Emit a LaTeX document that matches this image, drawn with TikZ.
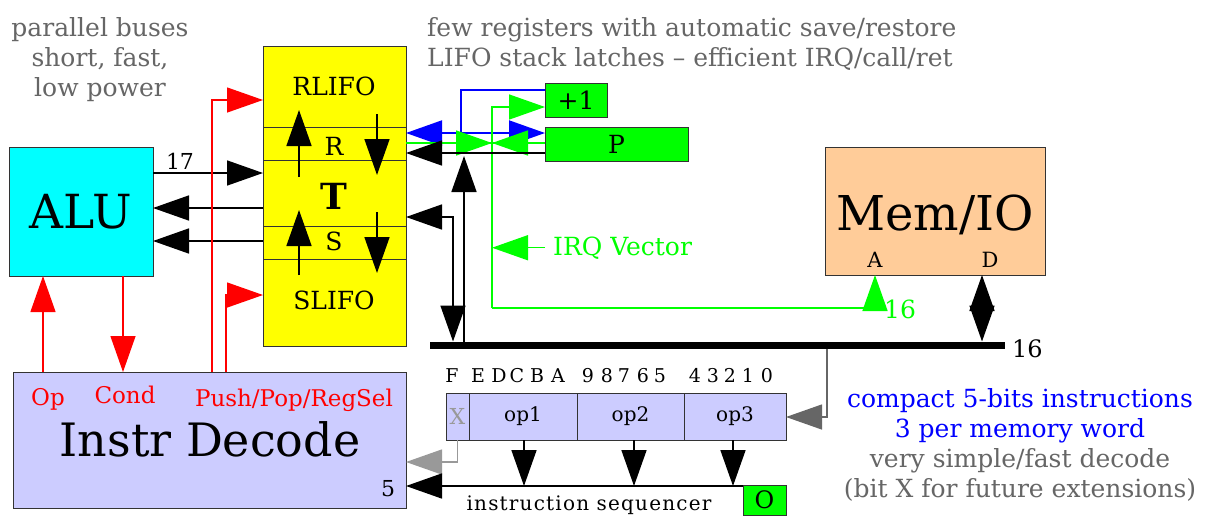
\documentclass[tikz,border=0pt]{standalone}
\usepackage{fontspec}
\setmainfont{DejaVu Serif}
\usetikzlibrary{arrows.meta}
\definecolor{grn}{HTML}{00FF00}
\definecolor{yel}{HTML}{FFFF00}
\definecolor{cya}{HTML}{00FFFF}
\definecolor{lav}{HTML}{CCCCFF}
\definecolor{peach}{HTML}{FFCC99}
\definecolor{txtgray}{HTML}{666666}
\definecolor{edge}{HTML}{333333}
\definecolor{redc}{HTML}{FF0000}
\definecolor{bluec}{HTML}{0000FF}
\definecolor{lgray}{HTML}{999999}
\definecolor{dgray}{HTML}{666666}
\tikzset{bigT/.tip={Triangle[length=36pt,width=25pt]}}
\begin{document}
\begin{tikzpicture}[x=1pt,y=-1pt,
  box/.style={draw=edge, line width=1pt, inner sep=0pt, outer sep=0pt, anchor=north west},
  ar/.style={-bigT, line width=1.6pt},
  dar/.style={bigT-bigT, line width=1.6pt},
  fxl/.style={font=\fontsize{47}{56}\selectfont},
  fm/.style={font=\fontsize{25}{30}\selectfont},
  fs/.style={font=\fontsize{22}{26}\selectfont},
  fxs/.style={font=\fontsize{20}{24}\selectfont},
  lbl/.style={inner sep=0pt, anchor=base},
]
\fill[white] (0,0) rectangle (1205,515);
\useasboundingbox (0,0) rectangle (1205,515);

% annotations (anchor base = last line)
\node[fm, txtgray, align=center, lbl] (ann1) at (100,96) {parallel buses\\short, fast,\\low power};
\node[fm, txtgray, align=left, inner sep=0pt, anchor=base west] (ann2) at (427,66) {few registers with automatic save/restore\\LIFO stack latches -- efficient IRQ/call/ret};
\node[fm, align=center, lbl] (ann3) at (1020,497) {\textcolor{bluec}{compact 5-bits instructions}\\\textcolor{bluec}{3 per memory word}\\\textcolor{txtgray}{very simple/fast decode}\\\textcolor{txtgray}{(bit X for future extensions)}};

% main boxes
\node[box, fill=cya, minimum width=144pt, minimum height=129pt, fxl] (alu) at (9,147) {ALU};
\node[box, fill=yel, minimum width=143pt, minimum height=300pt] (T) at (263,46) {};
\node[box, minimum width=143pt, minimum height=33pt] (Rsec) at (263,127) {};
\node[box, minimum width=143pt, minimum height=33pt] (Ssec) at (263,226) {};
\node[fm, lbl] (rlifo) at (334,95) {RLIFO};
\node[fm, lbl] (rlab) at (334,155) {R};
\node[font=\fontsize{36}{40}\selectfont\bfseries, lbl] (tlab) at (334,209) {T};
\node[fm, lbl] (slab) at (334,250) {S};
\node[fm, lbl] (slifo) at (334,309) {SLIFO};

\node[box, fill=grn, minimum width=62pt, minimum height=34pt, fm] (plus) at (545,83) {+1};
\node[box, fill=grn, minimum width=143pt, minimum height=34pt, fm] (P) at (545,127) {P};
\node[box, fill=peach, minimum width=220pt, minimum height=128pt] (mem) at (825,147) {};
\node[font=\fontsize{48}{56}\selectfont, lbl] (memlab) at (935,230) {Mem/IO};
\node[font=\fontsize{21}{24}\selectfont, lbl] (alab) at (875,267) {A};
\node[font=\fontsize{21}{24}\selectfont, lbl] (dlab) at (990,267) {D};

\node[box, fill=lav, minimum width=393pt, minimum height=136pt] (id) at (13,372) {};
\node[font=\fontsize{46}{52}\selectfont, lbl] (idlab) at (210,456) {Instr Decode};
\node[font=\fontsize{23}{26}\selectfont, redc, lbl] (oplab) at (48,405) {Op};
\node[font=\fontsize{23}{26}\selectfont, redc, lbl] (condlab) at (125,403) {Cond};
\node[font=\fontsize{23}{26}\selectfont, redc, lbl] (pplab) at (294,406) {Push/Pop/RegSel};
\node[fs, lbl] (fivelab) at (388,496) {5};

% instruction word
\node[box, fill=lav, minimum width=23pt, minimum height=47pt, fs, text=lgray] (X) at (446,393) {X};
\node[box, fill=lav, minimum width=108pt, minimum height=47pt, fxs] (op1) at (469,393) {op1};
\node[box, fill=lav, minimum width=107pt, minimum height=47pt, fxs] (op2) at (577,393) {op2};
\node[box, fill=lav, minimum width=102pt, minimum height=47pt, fxs] (op3) at (684,393) {op3};
\foreach \c/\x [count=\i] in {F/452,E/478,D/499,C/517,B/537,A/558,9/588,8/607,7/624,6/643,5/660,4/695,3/713,2/730,1/748,0/767}
  \node[font=\fontsize{19}{22}\selectfont, lbl] (bit\i) at (\x,382) {\c};
\node[box, fill=grn, minimum width=43pt, minimum height=30pt, font=\fontsize{24}{28}\selectfont] (O) at (743,485) {O};
\node[fxs, lbl] (seqlab) at (589,510) {\addfontfeature{LetterSpace=6}instruction sequencer};

% bus
\node[fill=black, minimum width=575pt, minimum height=7pt, inner sep=0pt, outer sep=0pt, anchor=west] (bus) at (430,345) {};
\node[font=\fontsize{24}{28}\selectfont, inner sep=0pt, anchor=base west] (bus16) at (1012,357) {16};

% ALU <-> T
\draw[ar] (alu.east |- 0,173) -- (T.west |- 0,173);
\node[fs, lbl] (l17) at (180,169) {17};
\draw[ar] (T.west |- 0,208) -- (alu.east |- 0,208);
\draw[ar] (T.west |- 0,241) -- (alu.east |- 0,241);

% internal T arrows
\draw[ar] (299,177) -- (299,110);
\draw[ar] (377,114) -- (377,175);
\draw[ar] (299,275) -- (299,210);
\draw[ar] (377,212) -- (377,273);

% red control lines
\draw[ar, redc, line width=1.3pt] (id.north -| 43,0) -- (alu.south -| 43,0);
\draw[ar, redc, line width=1.3pt] (alu.south -| 123,0) -- (id.north -| 123,0);
\draw[ar, redc, line width=1.3pt] (id.north -| 212,0) |- (T.west |- 0,100);
\draw[ar, redc, line width=1.3pt] (id.north -| 226,0) |- (T.west |- 0,295);

% blue
\coordinate (bj) at (461,133);
\draw[bluec, line width=1.5pt] (bj) |- (plus.west |- 0,90);
\draw[dar, bluec, line width=2pt] (T.east |- 0,133) -- (P.west |- 0,133);

% green
\coordinate (gj) at (492,143);
\coordinate (gb) at (492,308);
\draw[grn, line width=1.5pt] (T.east |- 0,143) -- (P.west |- 0,143);
\draw[ar, grn, line width=1.5pt] (T.east |- 0,143) -- (gj);
\draw[ar, grn, line width=1.5pt] (P.west |- 0,143) -- (gj);
\draw[ar, grn, line width=1.5pt] (gb) |- (plus.west |- 0,107);
\draw[ar, grn, line width=1.5pt] (gb) -| (mem.south -| 875,0);
\node[fm, grn, inner sep=0pt, anchor=base west] (irq) at (553,255) {IRQ Vector};
\draw[ar, grn, line width=1.5pt] ([xshift=-8pt]irq.west) -- (gb |- irq.west);
\node[fm, grn, inner sep=0pt, anchor=base west] (g16) at (884,318) {16};

% black to T / bus
\coordinate (pj) at (464,156);
\draw[ar] (P.west |- 0,153) -- (T.east |- 0,153);
\draw[ar] (bus.north -| 464,0) -- (pj);
\draw[dar] (T.east |- 0,217) -| (bus.north -| 453,0);
\draw[dar] (mem.south -| 982,0) -- (bus.north -| 982,0);

% instruction fetch / decode
\draw[ar, dgray, line width=1.3pt] (bus.south -| 827,0) |- (op3.east |- 0,417);
\draw[ar, lgray, line width=1.3pt] (X.south) |- (id.east |- 0,462);
\draw[ar] (op1.south -| 524,0) -- (524,486);
\draw[ar] (op2.south -| 634,0) -- (634,486);
\draw[ar] (op3.south -| 733,0) -- (733,486);
\draw[ar] (O.west |- 0,486) -- (id.east |- 0,486);
\end{tikzpicture}
\end{document}
